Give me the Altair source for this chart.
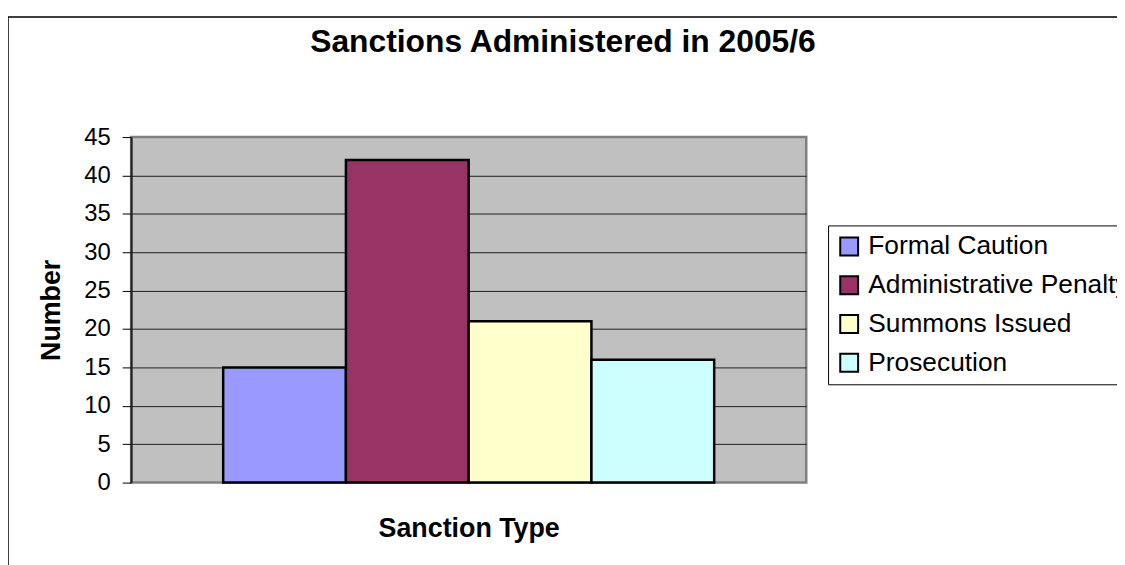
import altair as alt
import pandas as pd

categories = ["Formal Caution", "Administrative Penalty", "Summons Issued", "Prosecution"]
values = [15, 42, 21, 16]
colors = ["#9999FF", "#993366", "#FFFFCC", "#CCFFFF"]
y_ticks = [0, 5, 10, 15, 20, 25, 30, 35, 40, 45]

df = pd.DataFrame({"category": categories, "value": values})

FONT = "Liberation Sans"

# decorative outer chart border (Excel chart area frame)
border = alt.Chart(alt.Data(values=[{"a": 1}])).mark_rect(
    fill="white", fillOpacity=0, stroke="black", strokeWidth=1.5, clip=False
).encode(
    x=alt.value(-124), x2=alt.value(1200), y=alt.value(-121), y2=alt.value(700)
)

bars = alt.Chart(df).mark_bar(stroke="black", strokeWidth=2.5).encode(
    x=alt.X(
        "category:N",
        sort=categories,
        scale=alt.Scale(paddingInner=0, paddingOuter=0.75),
        axis=alt.Axis(
            labels=False, ticks=False, domain=False, grid=False,
            title="Sanction Type", titleFontSize=27, titleFontWeight="bold",
            titleFont=FONT, titleColor="black",
            titleX=340, titleY=54, titleAlign="center", titleBaseline="alphabetic",
        ),
    ),
    y=alt.Y(
        "value:Q",
        scale=alt.Scale(domain=[0, 45], nice=False),
        axis=alt.Axis(
            values=y_ticks, labelFontSize=24, labelFont=FONT, labelColor="black",
            labelPadding=12, tickSize=9, tickColor="black", tickWidth=1,
            domainColor="#202020", domainWidth=2,
            grid=True, gridColor="#202020", gridWidth=1,
            gridOpacity={"condition": {"test": "datum.value === 0 || datum.value === 45", "value": 0}, "value": 1},
            title="Number", titleFontSize=27, titleFontWeight="bold", titleFont=FONT,
            titleColor="black", titleAngle=270, titleX=-80, titleY=174,
            titleAlign="center", titleBaseline="middle",
        ),
    ),
    color=alt.Color(
        "category:N",
        sort=categories,
        scale=alt.Scale(domain=categories, range=colors),
        title=None,
        legend=alt.Legend(
            orient="none", legendX=702, legendY=89,
            fillColor="white", strokeColor="black",
            padding=8, symbolType="square", symbolSize=324,
            symbolStrokeColor="black", symbolStrokeWidth=2, symbolOpacity=1,
            labelFontSize=26.5, labelFont=FONT, labelColor="black",
            labelOffset=6, rowPadding=12, labelLimit=600,
        ),
    ),
)

chart = alt.layer(border, bars).properties(
    width=680,
    height=348,
    autosize=alt.AutoSizeParams(type="none"),
    padding={"left": 124, "top": 128, "right": 313, "bottom": 81},
    title=alt.TitleParams(
        "Sanctions Administered in 2005/6",
        fontSize=32, fontWeight="bold", font=FONT, color="black",
        anchor="middle", frame="group", dx=95, offset=-68.5, baseline="alphabetic",
    ),
).configure(
    background="white"
).configure_view(
    fill="#C0C0C0", stroke="#808080", strokeWidth=2.5
)

chart.save("out.html", embed_options={"renderer": "svg", "actions": False})
